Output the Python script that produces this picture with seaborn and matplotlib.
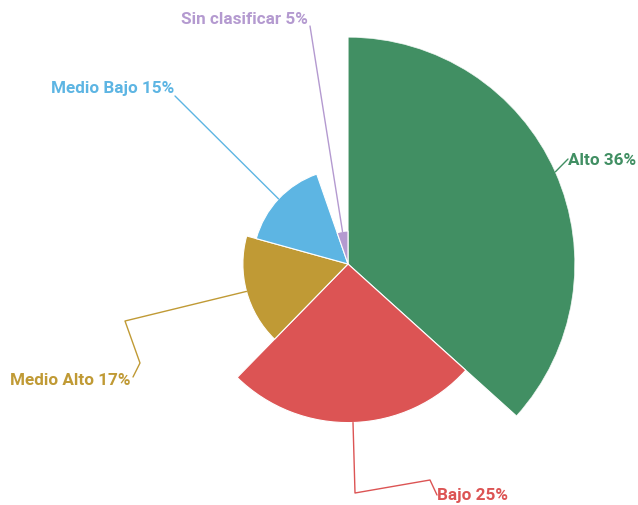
import numpy as np
import matplotlib
matplotlib.use("Agg")
import matplotlib.pyplot as plt
import seaborn as sns

categories = ["Alto", "Bajo", "Medio Alto", "Medio Bajo", "Sin clasificar"]
values = [36.5, 25.5, 16.9, 15.3, 5.3]
pct_labels = ["36%", "25%", "17%", "15%", "5%"]
colors = ["#418F63", "#DC5454", "#C09A35", "#5DB5E3", "#B49AD0"]

sns.set_theme(style="white")
plt.rcParams["font.family"] = ["Roboto", "DejaVu Sans"]

W, H = 638, 506
fig = plt.figure(figsize=(W / 100, H / 100), dpi=100)
cx, cy, R = 348, 265, 227
ax = fig.add_axes([(cx - R) / W, (H - cy - R) / H, 2 * R / W, 2 * R / H], projection="polar")
ax.set_theta_zero_location("N")
ax.set_theta_direction(-1)

vals = np.array(values)
widths = vals / vals.sum() * 2 * np.pi
starts = np.concatenate([[0], np.cumsum(widths)[:-1]])
mids = starts + widths / 2
ax.bar(starts, vals, width=widths, align="edge", color=colors, edgecolor="white", linewidth=0.8)
ax.set_ylim(0, vals.max())
ax.set_axis_off()

# label layout (pixel coords, top-left origin): bend points and text anchor
layout = {
    "Alto": dict(pts=[(568, 160)], text=(568, 161), ha="left"),
    "Bajo": dict(pts=[(355, 494), (430, 481), (437, 496)], text=(437, 496), ha="left"),
    "Medio Alto": dict(pts=[(125, 322), (140, 364), (133, 378)], text=(131, 381), ha="right"),
    "Medio Bajo": dict(pts=[(175, 97)], text=(174, 89), ha="right"),
    "Sin clasificar": dict(pts=[(310, 27)], text=(308, 19), ha="right"),
}

def px2fig(p):
    return (p[0] / W, 1 - p[1] / H)

fig.canvas.draw()
for cat, v, m, c, pl in zip(categories, vals, mids, colors, pct_labels):
    sx, sy = ax.transData.transform((m, v * 1.0))
    start = fig.transFigure.inverted().transform((sx, sy))
    lay = layout[cat]
    pts = [tuple(start)] + [px2fig(p) for p in lay["pts"]]
    xs, ys = zip(*pts)
    fig.add_artist(plt.Line2D(xs, ys, transform=fig.transFigure, color=c, lw=1.0))
    tx, ty = px2fig(lay["text"])
    fig.text(tx, ty, f"{cat} {pl}", color=c, ha=lay["ha"], va="center",
             fontsize=12.3, fontweight="bold")

fig.savefig("out.png", dpi=100)
